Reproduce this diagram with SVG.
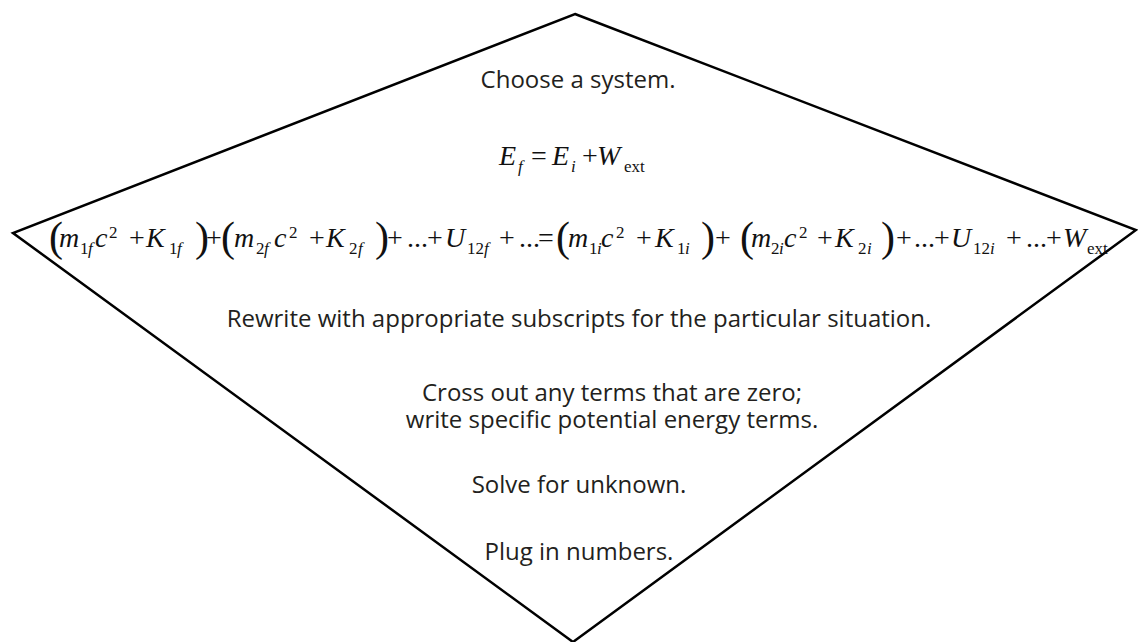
<svg xmlns="http://www.w3.org/2000/svg" width="1138" height="642" viewBox="0 0 1138 642">
<style>
.s{font-family:"Open Sans","Liberation Sans",sans-serif;font-size:24px;fill:#231f20;text-anchor:middle}
.m{font-family:"Liberation Serif","Times New Roman",serif;font-size:28px;fill:#111}
.it{font-style:italic}
.sb{font-size:17px}
.bp{font-size:42px}
</style>
<rect width="1138" height="642" fill="#ffffff"/>
<g id="diamond">
<polygon points="575,14 1136,230 573,642 13,233" fill="none" stroke="#000" stroke-width="2.5" stroke-linejoin="miter"/>
</g>
<g id="step-choose"><text class="s" x="578" y="88">Choose a system.</text></g>
<g id="eq-energy">
<text class="m">
<tspan class="it" x="499" y="165">E</tspan><tspan class="it sb" x="518" y="172">f</tspan>
<tspan x="531" y="165">=</tspan>
<tspan class="it" x="552" y="165">E</tspan><tspan class="it sb" x="571" y="172">i</tspan>
<tspan x="582" y="165">+</tspan>
<tspan class="it" x="597" y="165">W</tspan><tspan class="sb" x="624" y="172">ext</tspan>
</text>
</g>
<g id="eq-expanded">
<text class="m">
<tspan class="bp" x="49" y="251">(</tspan>
<tspan class="it" x="59" y="247">m</tspan><tspan class="sb" x="80" y="254">1</tspan><tspan class="it sb" x="88" y="254">f</tspan>
<tspan class="it" x="95" y="247">c</tspan><tspan class="sb" x="109" y="238">2</tspan>
<tspan x="129" y="247">+</tspan>
<tspan class="it" x="146" y="247">K</tspan><tspan class="sb" x="169" y="254">1</tspan><tspan class="it sb" x="177" y="254">f</tspan>
<tspan class="bp" x="195" y="251">)</tspan>
<tspan x="206" y="247">+</tspan>
<tspan class="bp" x="221" y="251">(</tspan>
<tspan class="it" x="234" y="247">m</tspan><tspan class="sb" x="256" y="254">2</tspan><tspan class="it sb" x="264" y="254">f</tspan>
<tspan class="it" x="274" y="247">c</tspan><tspan class="sb" x="289" y="238">2</tspan>
<tspan x="309" y="247">+</tspan>
<tspan class="it" x="326" y="247">K</tspan><tspan class="sb" x="349" y="254">2</tspan><tspan class="it sb" x="358" y="254">f</tspan>
<tspan class="bp" x="375" y="251">)</tspan>
<tspan x="387" y="247">+</tspan>
<tspan x="407" y="247">...</tspan>
<tspan x="427" y="247">+</tspan>
<tspan class="it" x="445" y="247">U</tspan><tspan class="sb" x="467" y="254">12</tspan><tspan class="it sb" x="484" y="254">f</tspan>
<tspan x="499" y="247">+</tspan>
<tspan x="519" y="247">...</tspan>
<tspan x="538" y="247">=</tspan>
<tspan class="bp" x="556" y="251">(</tspan>
<tspan class="it" x="568" y="247">m</tspan><tspan class="sb" x="589" y="254">1</tspan><tspan class="it sb" x="597" y="254">i</tspan>
<tspan class="it" x="601" y="247">c</tspan><tspan class="sb" x="616" y="238">2</tspan>
<tspan x="636" y="247">+</tspan>
<tspan class="it" x="655" y="247">K</tspan><tspan class="sb" x="677" y="254">1</tspan><tspan class="it sb" x="685" y="254">i</tspan>
<tspan class="bp" x="701" y="251">)</tspan>
<tspan x="715" y="247">+</tspan>
<tspan class="bp" x="740" y="251">(</tspan>
<tspan class="it" x="751" y="247">m</tspan><tspan class="sb" x="771" y="254">2</tspan><tspan class="it sb" x="779" y="254">i</tspan>
<tspan class="it" x="784" y="247">c</tspan><tspan class="sb" x="799" y="238">2</tspan>
<tspan x="817" y="247">+</tspan>
<tspan class="it" x="835" y="247">K</tspan><tspan class="sb" x="858" y="254">2</tspan><tspan class="it sb" x="867" y="254">i</tspan>
<tspan class="bp" x="881" y="251">)</tspan>
<tspan x="896" y="247">+</tspan>
<tspan x="914" y="247">...</tspan>
<tspan x="934" y="247">+</tspan>
<tspan class="it" x="951" y="247">U</tspan><tspan class="sb" x="973" y="254">12</tspan><tspan class="it sb" x="990" y="254">i</tspan>
<tspan x="1006" y="247">+</tspan>
<tspan x="1026" y="247">...</tspan>
<tspan x="1046" y="247">+</tspan>
<tspan class="it" x="1063" y="247">W</tspan><tspan class="sb" x="1087" y="254">ext</tspan>
</text>
</g>
<g id="step-rewrite"><text class="s" x="579" y="327">Rewrite with appropriate subscripts for the particular situation.</text></g>
<g id="step-cross">
<text class="s" x="612" y="401">Cross out any terms that are zero;</text>
<text class="s" x="612" y="428">write specific potential energy terms.</text>
</g>
<g id="step-solve"><text class="s" x="579" y="493">Solve for unknown.</text></g>
<g id="step-plug"><text class="s" x="579" y="560">Plug in numbers.</text></g>
</svg>
